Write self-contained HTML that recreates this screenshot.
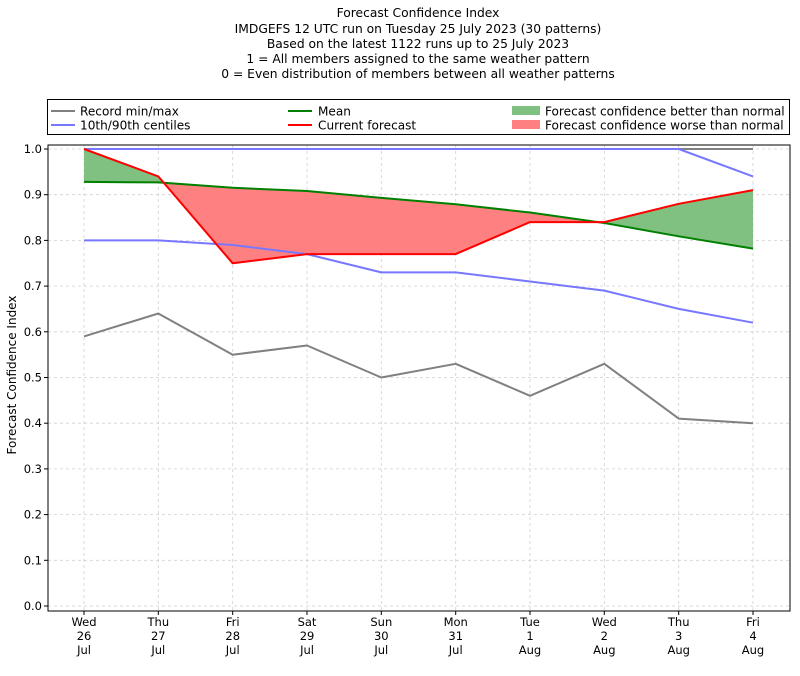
<!DOCTYPE html>
<html><head><meta charset="utf-8"><style>
body{margin:0;background:#fff;}
svg{display:block;font-family:"DejaVu Sans","Liberation Sans",sans-serif;}
</style></head><body>
<svg width="800" height="676" xmlns="http://www.w3.org/2000/svg">
<rect width="800" height="676" fill="#fff"/>
<g font-size="12.3" text-anchor="middle" fill="#000">
<text x="418" y="17">Forecast Confidence Index</text>
<text x="418" y="33">IMDGEFS 12 UTC run on Tuesday 25 July 2023 (30 patterns)</text>
<text x="418" y="48">Based on the latest 1122 runs up to 25 July 2023</text>
<text x="418" y="63">1 = All members assigned to the same weather pattern</text>
<text x="418" y="78">0 = Even distribution of members between all weather patterns</text>
</g>
<!-- legend -->
<rect x="47.5" y="99.5" width="742" height="35" fill="#fff" stroke="#000" stroke-width="1"/>
<g stroke-width="2">
<line x1="51" y1="111" x2="75" y2="111" stroke="#808080"/>
<line x1="51" y1="125" x2="75" y2="125" stroke="#7777ff"/>
<line x1="288" y1="111" x2="312" y2="111" stroke="#008000"/>
<line x1="288" y1="125" x2="312" y2="125" stroke="#ff0000"/>
</g>
<rect x="512" y="106" width="28" height="9" fill="#80c080"/>
<rect x="512" y="120" width="28" height="9" fill="#ff8080"/>
<g font-size="12.1" fill="#000">
<text x="80" y="115.5">Record min/max</text>
<text x="80" y="129.5">10th/90th centiles</text>
<text x="318" y="115.5">Mean</text>
<text x="318" y="129.5">Current forecast</text>
<text x="545" y="115.5">Forecast confidence better than normal</text>
<text x="545" y="129.5">Forecast confidence worse than normal</text>
</g>
<!-- grid -->
<g stroke="#d0d0d0" stroke-width="0.8" stroke-dasharray="3,3">
<line x1="48" x2="790" y1="149" y2="149"/><line x1="48" x2="790" y1="194.7" y2="194.7"/>
<line x1="48" x2="790" y1="240.4" y2="240.4"/><line x1="48" x2="790" y1="286.1" y2="286.1"/>
<line x1="48" x2="790" y1="331.8" y2="331.8"/><line x1="48" x2="790" y1="377.5" y2="377.5"/>
<line x1="48" x2="790" y1="423.2" y2="423.2"/><line x1="48" x2="790" y1="468.9" y2="468.9"/>
<line x1="48" x2="790" y1="514.6" y2="514.6"/><line x1="48" x2="790" y1="560.3" y2="560.3"/>
<line x1="48" x2="790" y1="606" y2="606"/>
<line y1="145" y2="611" x1="84" x2="84"/><line y1="145" y2="611" x1="158.3" x2="158.3"/>
<line y1="145" y2="611" x1="232.7" x2="232.7"/><line y1="145" y2="611" x1="307" x2="307"/>
<line y1="145" y2="611" x1="381.3" x2="381.3"/><line y1="145" y2="611" x1="455.7" x2="455.7"/>
<line y1="145" y2="611" x1="530" x2="530"/><line y1="145" y2="611" x1="604.3" x2="604.3"/>
<line y1="145" y2="611" x1="678.7" x2="678.7"/><line y1="145" y2="611" x1="753" x2="753"/>
</g>
<!-- fills -->
<polygon fill="#80c080" points="84,149 158.3,176.4 163.7,182.8 158.3,182.4 84,181.9"/>
<polygon fill="#ff8080" points="163.7,182.8 232.7,187.8 307,191 381.3,197.9 455.7,204.3 530,212.5 597.8,222.1 530,222.1 455.7,254.1 381.3,254.1 307,254.1 232.7,263.3"/>
<polygon fill="#80c080" points="597.8,222.1 604.3,222.1 678.7,203.8 753,190.1 753,248.6 678.7,236.3 604.3,223"/>
<!-- lines -->
<g fill="none" stroke-width="2" stroke-linejoin="round">
<polyline stroke="#808080" points="84,149 753,149"/>
<polyline stroke="#808080" points="84,336.4 158.3,313.5 232.7,354.7 307,345.5 381.3,377.5 455.7,363.8 530,395.8 604.3,363.8 678.7,418.6 753,423.2"/>
<polyline stroke="#7777ff" points="84,149 678.7,149 753,176.4"/>
<polyline stroke="#7777ff" points="84,240.4 158.3,240.4 232.7,245 307,254.1 381.3,272.4 455.7,272.4 530,281.5 604.3,290.6 678.7,308.9 753,322.7"/>
<polyline stroke="#008000" points="84,181.9 158.3,182.4 232.7,187.8 307,191 381.3,197.9 455.7,204.3 530,212.5 604.3,223 678.7,236.3 753,248.6"/>
<polyline stroke="#ff0000" points="84,149 158.3,176.4 232.7,263.3 307,254.1 381.3,254.1 455.7,254.1 530,222.1 604.3,222.1 678.7,203.8 753,190.1"/>
</g>
<!-- axes -->
<rect x="48" y="145" width="742" height="466" fill="none" stroke="#000" stroke-width="1"/>
<g stroke="#000" stroke-width="1">
<line x1="44" x2="48" y1="149" y2="149"/><line x1="44" x2="48" y1="194.7" y2="194.7"/>
<line x1="44" x2="48" y1="240.4" y2="240.4"/><line x1="44" x2="48" y1="286.1" y2="286.1"/>
<line x1="44" x2="48" y1="331.8" y2="331.8"/><line x1="44" x2="48" y1="377.5" y2="377.5"/>
<line x1="44" x2="48" y1="423.2" y2="423.2"/><line x1="44" x2="48" y1="468.9" y2="468.9"/>
<line x1="44" x2="48" y1="514.6" y2="514.6"/><line x1="44" x2="48" y1="560.3" y2="560.3"/>
<line x1="44" x2="48" y1="606" y2="606"/>
</g>
<g font-size="11.5" text-anchor="end" fill="#000">
<text x="42" y="153">1.0</text><text x="42" y="198.7">0.9</text><text x="42" y="244.4">0.8</text>
<text x="42" y="290.1">0.7</text><text x="42" y="335.8">0.6</text><text x="42" y="381.5">0.5</text>
<text x="42" y="427.2">0.4</text><text x="42" y="472.9">0.3</text><text x="42" y="518.6">0.2</text>
<text x="42" y="564.3">0.1</text><text x="42" y="610">0.0</text>
</g>
<text x="16" y="375" font-size="12" text-anchor="middle" transform="rotate(-90 16 375)">Forecast Confidence Index</text>
<g font-size="11.5" text-anchor="middle" fill="#000">
<g transform="translate(84,0)"><text y="626">Wed</text><text y="640">26</text><text y="654">Jul</text></g>
<g transform="translate(158.3,0)"><text y="626">Thu</text><text y="640">27</text><text y="654">Jul</text></g>
<g transform="translate(232.7,0)"><text y="626">Fri</text><text y="640">28</text><text y="654">Jul</text></g>
<g transform="translate(307,0)"><text y="626">Sat</text><text y="640">29</text><text y="654">Jul</text></g>
<g transform="translate(381.3,0)"><text y="626">Sun</text><text y="640">30</text><text y="654">Jul</text></g>
<g transform="translate(455.7,0)"><text y="626">Mon</text><text y="640">31</text><text y="654">Jul</text></g>
<g transform="translate(530,0)"><text y="626">Tue</text><text y="640">1</text><text y="654">Aug</text></g>
<g transform="translate(604.3,0)"><text y="626">Wed</text><text y="640">2</text><text y="654">Aug</text></g>
<g transform="translate(678.7,0)"><text y="626">Thu</text><text y="640">3</text><text y="654">Aug</text></g>
<g transform="translate(753,0)"><text y="626">Fri</text><text y="640">4</text><text y="654">Aug</text></g>
</g>
<g stroke="#000" stroke-width="1">
<line y1="611" y2="615" x1="84" x2="84"/><line y1="611" y2="615" x1="158.3" x2="158.3"/>
<line y1="611" y2="615" x1="232.7" x2="232.7"/><line y1="611" y2="615" x1="307" x2="307"/>
<line y1="611" y2="615" x1="381.3" x2="381.3"/><line y1="611" y2="615" x1="455.7" x2="455.7"/>
<line y1="611" y2="615" x1="530" x2="530"/><line y1="611" y2="615" x1="604.3" x2="604.3"/>
<line y1="611" y2="615" x1="678.7" x2="678.7"/><line y1="611" y2="615" x1="753" x2="753"/>
</g>
</svg>
</body></html>
